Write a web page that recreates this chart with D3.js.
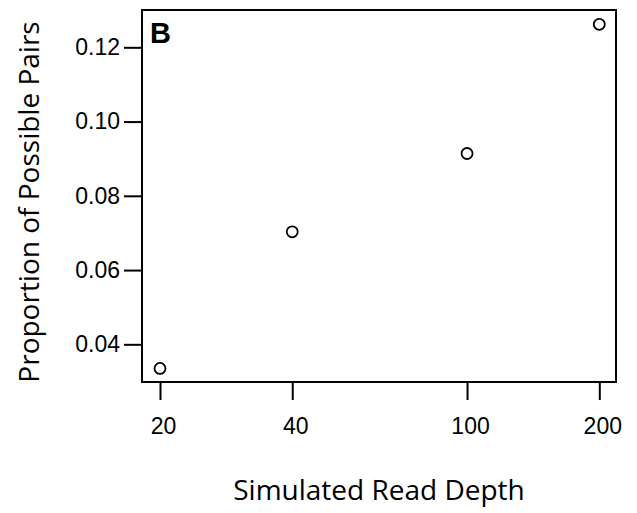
<!DOCTYPE html>
<html>
<head>
<meta charset="utf-8">
<script src="https://cdn.jsdelivr.net/npm/d3@7"></script>
<style>
  body { margin: 0; background: #fff; }
  svg { display: block; }
  .tick text { font-family: "Liberation Sans", Arial, sans-serif; font-size: 23px; fill: #000; }
  .ttl { font-family: "Open Sans", sans-serif; font-size: 28px; fill: #000; }
</style>
</head>
<body>
<svg width="637" height="513"></svg>
<script>
// read depth vs proportion of possible pairs
var depths = [20, 40, 100, 200];
var proportions = [0.0335, 0.0703, 0.0914, 0.1262];
var xTicks = [20, 40, 100, 200];
var yTicks = [0.04, 0.06, 0.08, 0.10, 0.12];

var svg = d3.select("svg");
var boxL = 142, boxR = 616, boxT = 10, boxB = 382;

var x = d3.scaleLog().domain([18.2, 218.3]).range([boxL, boxR]);
var y = d3.scaleLinear().domain([0.02985, 0.13005]).range([boxB, boxT]);

// box
svg.append("rect")
  .attr("x", boxL).attr("y", boxT)
  .attr("width", boxR - boxL).attr("height", boxB - boxT)
  .style("fill", "none").style("stroke", "#000").style("stroke-width", 2);

var yAxis = svg.append("g")
  .attr("transform", "translate(" + boxL + ",0)")
  .call(d3.axisLeft(y).tickValues(yTicks).tickSize(18).tickPadding(4).tickFormat(d3.format(".2f")));
yAxis.select(".domain").remove();
yAxis.selectAll(".tick line").style("stroke-width", 2);

var xAxis = svg.append("g")
  .attr("transform", "translate(0," + boxB + ")")
  .call(d3.axisBottom(x).tickValues(xTicks).tickSize(18).tickPadding(18).tickFormat(d3.format("d")));
xAxis.select(".domain").remove();
xAxis.selectAll(".tick line").style("stroke-width", 2);
xAxis.selectAll(".tick text").attr("dx", 3);

svg.selectAll("circle.pt").data(depths)
  .enter().append("circle")
    .attr("class", "pt")
    .attr("cx", function(d) { return x(d); })
    .attr("cy", function(d, i) { return y(proportions[i]); })
    .attr("r", 5.5)
    .style("fill", "none")
    .style("stroke", "#000")
    .style("stroke-width", 1.8);

svg.append("text")
  .attr("x", 150).attr("y", 43)
  .style("font-family", "'Liberation Sans', Arial, sans-serif")
  .style("font-weight", "bold").style("font-size", "29px")
  .text("B");

svg.append("text").attr("class", "ttl")
  .attr("x", (boxL + boxR) / 2).attr("y", 500)
  .attr("text-anchor", "middle")
  .text("Simulated Read Depth");

svg.append("text").attr("class", "ttl")
  .attr("transform", "translate(39," + ((boxT + boxB) / 2 + 6) + ") rotate(-90)")
  .attr("text-anchor", "middle")
  .text("Proportion of Possible Pairs");
</script>
</body>
</html>
